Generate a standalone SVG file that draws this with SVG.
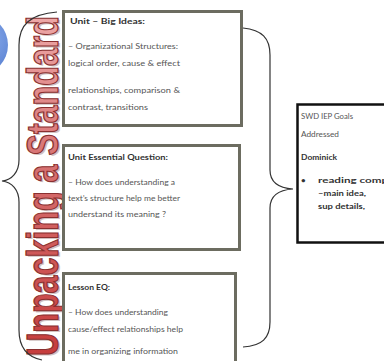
<svg xmlns="http://www.w3.org/2000/svg" width="384" height="361" viewBox="0 0 384 361">
<defs>
<style>
.box{fill:#ffffff;stroke:#6c6c60;stroke-width:3}
.rbox{fill:#ffffff;stroke:#111111;stroke-width:2.5}
.t{font-family:Lato,"Liberation Sans",sans-serif;font-size:8px;fill:#555555}
.b{font-family:Lato,"Liberation Sans",sans-serif;font-size:8px;font-weight:bold;fill:#333333}
.brace{fill:none;stroke:#333333;stroke-width:1.2}
.title{font-family:"Liberation Sans Narrow","Liberation Sans",sans-serif;font-size:38px;font-weight:bold}
</style>
<linearGradient id="tg" gradientUnits="userSpaceOnUse" x1="0" y1="0" x2="340" y2="0">
<stop offset="0" stop-color="#c63c3c"/>
<stop offset="0.5" stop-color="#d46a6a"/>
<stop offset="1" stop-color="#eda8a8"/>
</linearGradient>
<radialGradient id="bg" cx="0.6" cy="0.4" r="0.7">
<stop offset="0" stop-color="#8fb0ee"/>
<stop offset="1" stop-color="#4f78cc"/>
</radialGradient>
</defs>
<rect width="384" height="361" fill="#ffffff"/>
<circle cx="-22" cy="45" r="30" fill="url(#bg)"/>
<g id="title">
<text class="title" transform="translate(59.5,357.5) rotate(-90) scale(1,1.15)" textLength="340" lengthAdjust="spacingAndGlyphs" fill="#9a7a7a" opacity="0.45">Unpacking a Standard</text>
<text class="title" transform="translate(58,356) rotate(-90) scale(1,1.15)" textLength="340" lengthAdjust="spacingAndGlyphs" fill="url(#tg)" stroke="#8a3030" stroke-width="1.1">Unpacking a Standard</text>
</g>
<g id="connectors">
<path class="brace" d="M57,12 C30,14 19,25 19,45 L19,160 C19,172 12,180 2,181 C12,182 19,190 19,202 L19,330 C19,348 27,357 42,360"/>
<path class="brace" d="M243,28 C262,30 270,38 270,55 L270,170 C270,182 278,188 293,189 C278,190 270,196 270,208 L270,322 C270,338 262,346 243,347"/>
</g>
<g id="box1">
<rect class="box" x="63.5" y="11.5" width="178" height="114"/>
<text class="b" x="70" y="24" textLength="75" lengthAdjust="spacingAndGlyphs">Unit – Big Ideas:</text>
<text class="t" x="68" y="49" textLength="110" lengthAdjust="spacingAndGlyphs">– Organizational Structures:</text>
<text class="t" x="68" y="66" textLength="112" lengthAdjust="spacingAndGlyphs">logical order, cause &amp; effect</text>
<text class="t" x="68" y="93" textLength="112" lengthAdjust="spacingAndGlyphs">relationships, comparison &amp;</text>
<text class="t" x="68" y="110" textLength="80" lengthAdjust="spacingAndGlyphs">contrast, transitions</text>
</g>
<g id="box2">
<rect class="box" x="63.5" y="145.5" width="176" height="104"/>
<text class="b" x="68" y="160" textLength="100" lengthAdjust="spacingAndGlyphs">Unit Essential Question:</text>
<text class="t" x="68" y="185" textLength="107" lengthAdjust="spacingAndGlyphs">– How does understanding a</text>
<text class="t" x="68" y="201" textLength="112" lengthAdjust="spacingAndGlyphs">text’s structure help me better</text>
<text class="t" x="68" y="217" textLength="98" lengthAdjust="spacingAndGlyphs">understand its meaning ?</text>
</g>
<g id="box3">
<rect class="box" x="63.5" y="273.5" width="172" height="95"/>
<text class="b" x="68" y="290" textLength="42" lengthAdjust="spacingAndGlyphs">Lesson EQ:</text>
<text class="t" x="68" y="315" textLength="100" lengthAdjust="spacingAndGlyphs">– How does understanding</text>
<text class="t" x="68" y="332" textLength="115" lengthAdjust="spacingAndGlyphs">cause/effect relationships help</text>
<text class="t" x="68" y="354" textLength="110" lengthAdjust="spacingAndGlyphs">me in organizing information</text>
</g>
<g id="goals">
<rect class="rbox" x="297.5" y="104.5" width="100" height="138"/>
<text class="t" x="301" y="119" textLength="52" lengthAdjust="spacingAndGlyphs">SWD IEP Goals</text>
<text class="t" x="301" y="137" textLength="38" lengthAdjust="spacingAndGlyphs">Addressed</text>
<text class="b" x="301" y="160" textLength="36" lengthAdjust="spacingAndGlyphs">Dominick</text>
<text class="b" x="301" y="183">•</text>
<text class="b" x="318" y="183" textLength="70" lengthAdjust="spacingAndGlyphs">reading comp</text>
<text class="b" x="318" y="196" textLength="48" lengthAdjust="spacingAndGlyphs">–main idea,</text>
<text class="b" x="318" y="209" textLength="47" lengthAdjust="spacingAndGlyphs">sup details,</text>
</g>
</svg>
